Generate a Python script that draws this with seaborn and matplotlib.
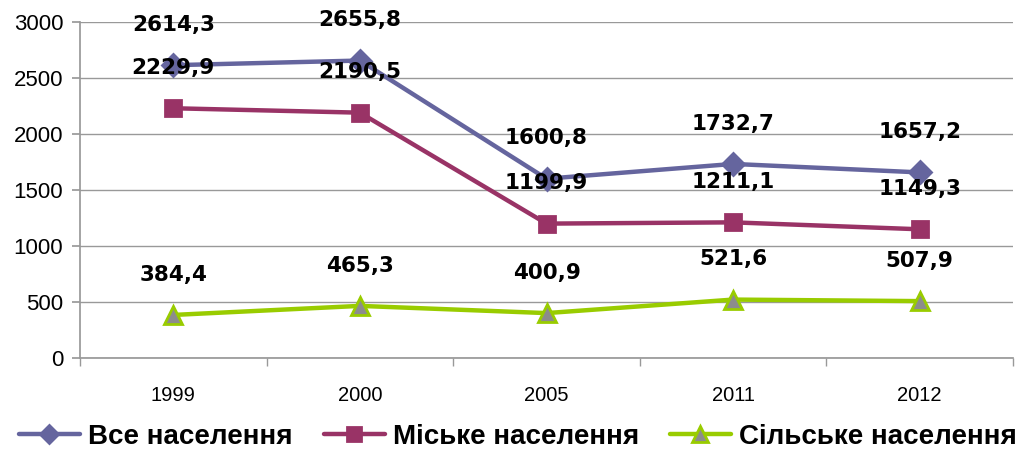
import matplotlib
matplotlib.use("Agg")
import matplotlib.pyplot as plt
import seaborn as sns
import numpy as np
import pandas as pd

years = ["1999", "2000", "2005", "2011", "2012"]
total = [2614.3, 2655.8, 1600.8, 1732.7, 1657.2]
urban = [2229.9, 2190.5, 1199.9, 1211.1, 1149.3]
rural = [384.4, 465.3, 400.9, 521.6, 507.9]
names = ["Все населення", "Міське населення", "Сільське населення"]

sns.set_theme(style="white")
plt.rcParams['font.family'] = ['Liberation Sans', 'DejaVu Sans']

fig = plt.figure(figsize=(10.31, 4.59), dpi=100)
ax = fig.add_axes([80/1031, 101/459, 933/1031, 336/459])

xpos = np.arange(len(years))
series = [
    (total, names[0], "#65659E", "D", "#65659E", 11),
    (urban, names[1], "#993366", "s", "#993366", 12),
    (rural, names[2], "#99CC00", "^", "#8C8C8C", 13),
]
for vals, name, col, mk, fc, ms in series:
    df = pd.DataFrame({"x": xpos, "y": vals})
    sns.lineplot(data=df, x="x", y="y", ax=ax, color=col, lw=3.2,
                 marker=mk, markersize=ms, markerfacecolor=fc,
                 markeredgecolor=col, markeredgewidth=2, label=name)
    for xi, v in zip(xpos, vals):
        ax.annotate(f"{v:.1f}".replace(".", ","), (xi, v), xytext=(0, 29),
                    textcoords="offset points", ha="center", va="center",
                    fontsize=15.5, fontweight="heavy", family="DejaVu Sans",
                    color="black")

ax.set_xlim(-0.5, len(years) - 0.5)
ax.set_ylim(0, 3000)
ax.set_yticks(np.arange(0, 3001, 500))
ax.set_xticks(xpos)
ax.set_xticklabels(years)
ax.set_xticks(np.arange(-0.5, len(years), 1), minor=True)
ax.grid(axis="y", color="#999999", lw=1)
ax.set_axisbelow(True)
ax.set_xlabel("")
ax.set_ylabel("")
for s in ["top", "right"]:
    ax.spines[s].set_visible(False)
ax.spines["left"].set_color("#999999")
ax.spines["bottom"].set_color("#999999")
ax.tick_params(axis="y", which="major", left=True, length=6, color="#999999",
               labelsize=16, pad=6, labelcolor="black")
ax.tick_params(axis="x", which="major", bottom=False, labelsize=14.5, pad=14,
               labelcolor="black")
ax.tick_params(axis="x", which="minor", bottom=True, length=6, color="#999999")

leg = ax.legend(loc="center", bbox_to_anchor=(518/1031, 22/459),
                bbox_transform=fig.transFigure, ncol=3, frameon=False,
                handlelength=2.2, columnspacing=1.1, handletextpad=0.3,
                markerscale=0.85,
                prop={"family": ["Liberation Sans", "DejaVu Sans"],
                      "weight": "bold", "size": 20})
for t in leg.get_texts():
    t.set_color("black")

fig.savefig("out.png", dpi=100)
